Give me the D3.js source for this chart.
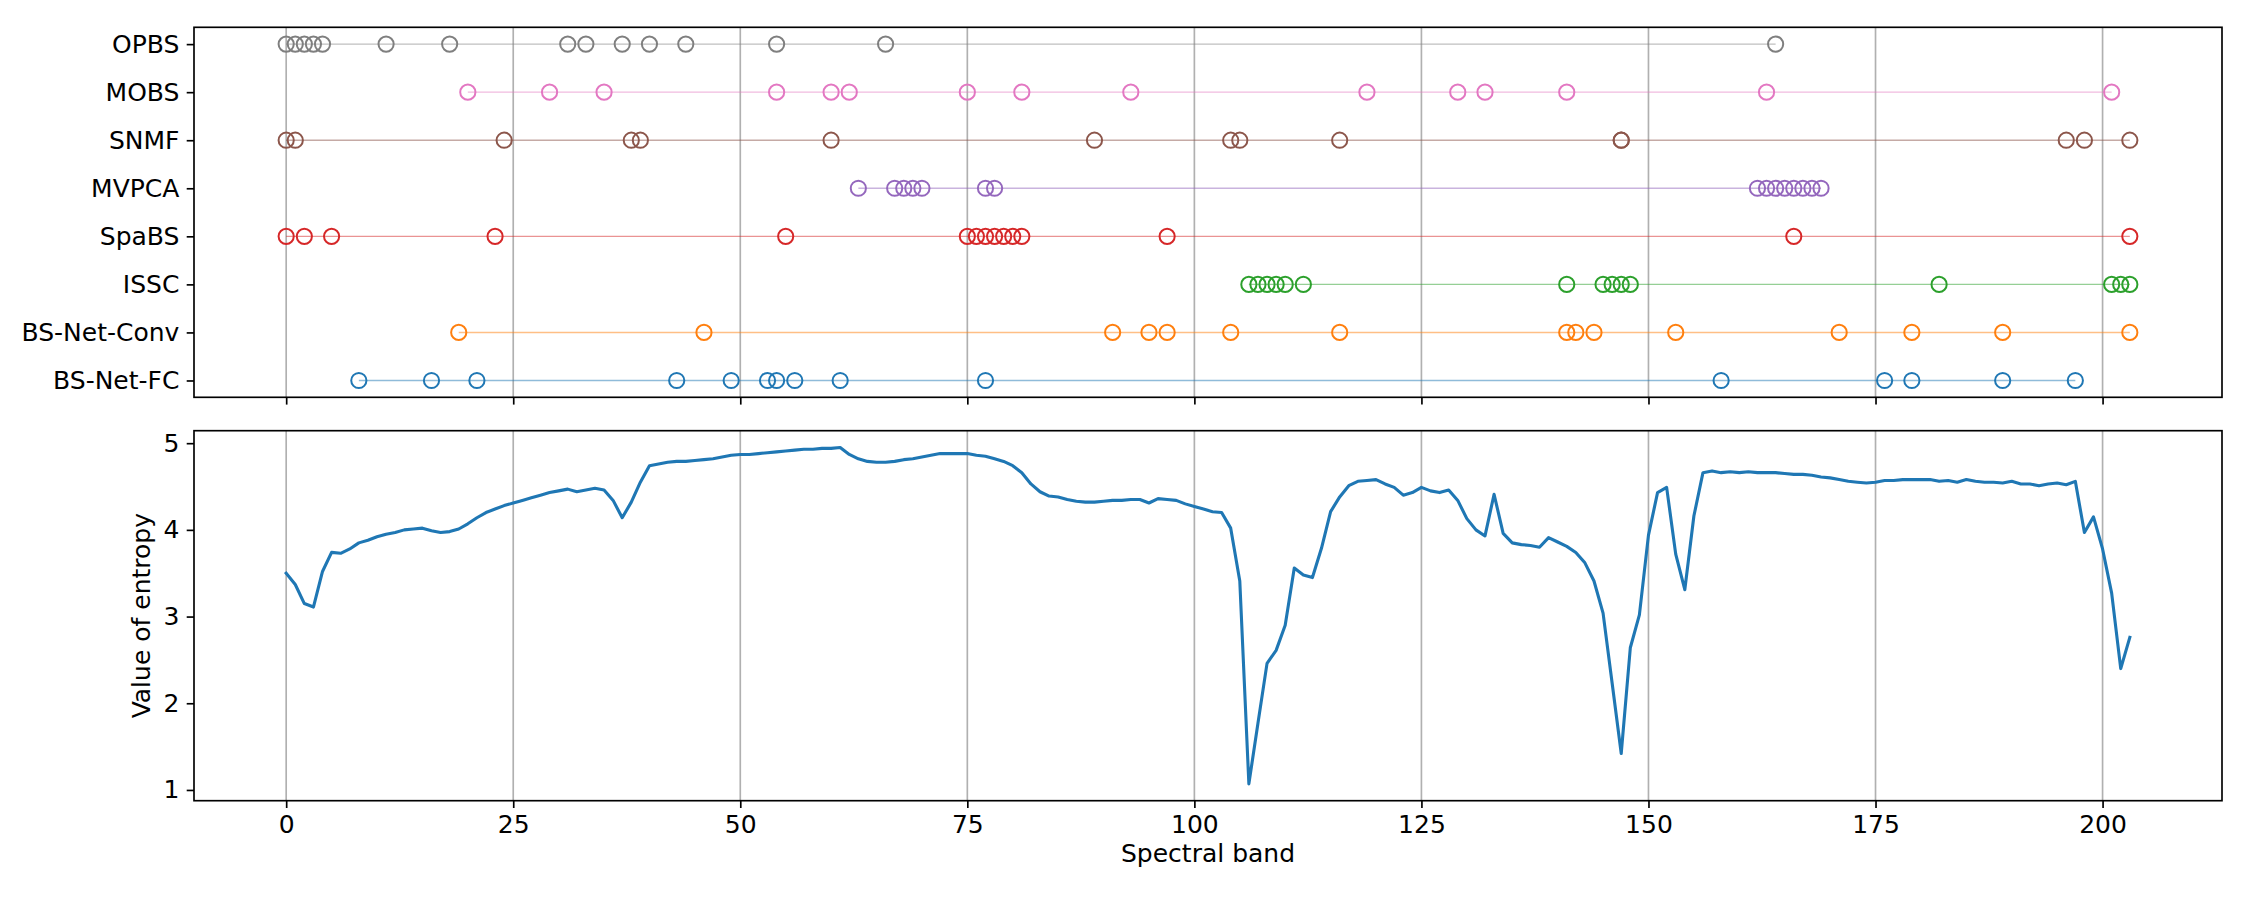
<!DOCTYPE html>
<html>
<head>
<meta charset="utf-8">
<script src="https://cdn.jsdelivr.net/npm/d3@7"></script>
<style>
  html, body { margin: 0; padding: 0; background: #fff; }
  svg { display: block; font-family: "DejaVu Sans", sans-serif; }
</style>
</head>
<body>
<svg id="chart" width="2250" height="900"></svg>
<script>
// ---------- data ----------
const methods = ["BS-Net-FC", "BS-Net-Conv", "ISSC", "SpaBS", "MVPCA", "SNMF", "MOBS", "OPBS"];
const colors  = ["#1f77b4", "#ff7f0e", "#2ca02c", "#d62728", "#9467bd", "#8c564b", "#e377c2", "#7f7f7f"];

const bsNetFC   = [8, 16, 21, 43, 49, 53, 54, 56, 61, 77, 158, 176, 179, 189, 197];
const bsNetConv = [19, 46, 91, 95, 97, 104, 116, 141, 142, 144, 153, 171, 179, 189, 203];
const issc      = [106, 107, 108, 109, 110, 112, 141, 145, 146, 147, 148, 182, 201, 202, 203];
const spabs     = [0, 2, 5, 23, 55, 75, 76, 77, 78, 79, 80, 81, 97, 166, 203];
const mvpca     = [63, 67, 68, 69, 70, 77, 78, 162, 163, 164, 165, 166, 167, 168, 169];
const snmf      = [0, 1, 24, 38, 39, 60, 89, 104, 105, 116, 147, 147, 196, 198, 203];
const mobs      = [20, 29, 35, 54, 60, 62, 75, 81, 93, 119, 129, 132, 141, 163, 201];
const opbs      = [0, 1, 2, 3, 4, 11, 18, 31, 33, 37, 40, 44, 54, 66, 164];

const selections = [bsNetFC, bsNetConv, issc, spabs, mvpca, snmf, mobs, opbs];

const entropy = [
  3.50, 3.37, 3.15, 3.11, 3.52, 3.74, 3.73, 3.78, 3.85, 3.88,
  3.92, 3.95, 3.97, 4.00, 4.01, 4.02, 3.99, 3.97, 3.98, 4.01,
  4.07, 4.14, 4.20, 4.24, 4.28, 4.31, 4.34, 4.37, 4.40, 4.43,
  4.45, 4.47, 4.44, 4.46, 4.48, 4.46, 4.34, 4.14, 4.32, 4.55,
  4.74, 4.76, 4.78, 4.79, 4.79, 4.80, 4.81, 4.82, 4.84, 4.86,
  4.87, 4.87, 4.88, 4.89, 4.90, 4.91, 4.92, 4.93, 4.93, 4.94,
  4.94, 4.95, 4.87, 4.82, 4.79, 4.78, 4.78, 4.79, 4.81, 4.82,
  4.84, 4.86, 4.88, 4.88, 4.88, 4.88, 4.86, 4.85, 4.82, 4.79,
  4.74, 4.66, 4.53, 4.44, 4.39, 4.38, 4.35, 4.33, 4.32, 4.32,
  4.33, 4.34, 4.34, 4.35, 4.35, 4.31, 4.36, 4.35, 4.34, 4.30,
  4.27, 4.24, 4.21, 4.20, 4.02, 3.41, 1.07, 1.77, 2.46, 2.61,
  2.90, 3.56, 3.48, 3.45, 3.79, 4.21, 4.38, 4.51, 4.56, 4.57,
  4.58, 4.53, 4.49, 4.40, 4.43, 4.49, 4.45, 4.43, 4.46, 4.34,
  4.13, 4.00, 3.93, 4.41, 3.96, 3.85, 3.83, 3.82, 3.80, 3.91,
  3.86, 3.81, 3.74, 3.62, 3.41, 3.04, 2.23, 1.42, 2.64, 3.02,
  3.94, 4.43, 4.49, 3.72, 3.31, 4.16, 4.66, 4.68, 4.66, 4.67,
  4.66, 4.67, 4.66, 4.66, 4.66, 4.65, 4.64, 4.64, 4.63, 4.61,
  4.60, 4.58, 4.56, 4.55, 4.54, 4.55, 4.57, 4.57, 4.58, 4.58,
  4.58, 4.58, 4.56, 4.57, 4.55, 4.58, 4.56, 4.55, 4.55, 4.54,
  4.56, 4.53, 4.53, 4.51, 4.53, 4.54, 4.52, 4.56, 3.97, 4.15,
  3.78, 3.27, 2.40, 2.76
];

const xTicks = [0, 25, 50, 75, 100, 125, 150, 175, 200];
const yTicks = [1, 2, 3, 4, 5];
const xLabel = "Spectral band";
const yLabel = "Value of entropy";

// ---------- layout ----------
const FONT = 25;
const left = 194, right = 2222;
const top1 = 27.3, bot1 = 397.3;
const top2 = 430.7, bot2 = 800.7;
const tickLen = 7.3, tickPad = 7.3;

const svg = d3.select("#chart");

const xMin = 0, xMax = entropy.length - 1;
const xPad = (xMax - xMin) * 0.05;
const x = d3.scaleLinear().domain([xMin - xPad, xMax + xPad]).range([left, right]);

const yTop = d3.scaleLinear().domain([-0.35, methods.length - 1 + 0.35]).range([bot1, top1]);

const eExt = d3.extent(entropy);
const ePad = (eExt[1] - eExt[0]) * 0.05;
const yBot = d3.scaleLinear().domain([eExt[0] - ePad, eExt[1] + ePad]).range([bot2, top2]);

function panelGrid(g, y0, y1) {
  g.selectAll("line.grid").data(xTicks).join("line")
    .attr("class", "grid")
    .attr("x1", d => x(d)).attr("x2", d => x(d))
    .attr("y1", y0).attr("y2", y1)
    .attr("stroke", "#b0b0b0").attr("stroke-width", 1.67);
}

// ---------- top panel ----------
const gTop = svg.append("g");
panelGrid(gTop, top1, bot1);

selections.forEach((sel, i) => {
  const c = colors[i];
  const yy = yTop(i);
  gTop.append("line")
    .attr("x1", x(d3.min(sel))).attr("x2", x(d3.max(sel)))
    .attr("y1", yy).attr("y2", yy)
    .attr("stroke", c).attr("stroke-opacity", 0.5).attr("stroke-width", 1.4);
  gTop.selectAll(null).data(sel).join("circle")
    .attr("cx", d => x(d)).attr("cy", yy).attr("r", 7.6)
    .attr("fill", "none").attr("stroke", c).attr("stroke-width", 2);
});

// frame
gTop.append("rect").attr("x", left).attr("y", top1)
  .attr("width", right - left).attr("height", bot1 - top1)
  .attr("fill", "none").attr("stroke", "#000").attr("stroke-width", 1.67);

// x ticks (no labels)
const axTopX = d3.axisBottom(x).tickValues(xTicks).tickSize(tickLen).tickFormat("");
gTop.append("g").attr("transform", `translate(0,${bot1})`).call(axTopX)
  .call(g => g.select(".domain").remove())
  .call(g => g.selectAll(".tick line").attr("stroke", "#000").attr("stroke-width", 1.67));

// y ticks with method labels
const axTopY = d3.axisLeft(yTop).tickValues(d3.range(methods.length))
  .tickFormat(i => methods[i]).tickSize(tickLen).tickPadding(tickPad);
gTop.append("g").attr("transform", `translate(${left},0)`).call(axTopY)
  .call(g => g.select(".domain").remove())
  .call(g => g.selectAll(".tick line").attr("stroke", "#000").attr("stroke-width", 1.67))
  .call(g => g.selectAll(".tick text").attr("fill", "#000")
    .style("font-size", FONT + "px").style("font-family", "DejaVu Sans"));

// ---------- bottom panel ----------
const gBot = svg.append("g");
panelGrid(gBot, top2, bot2);

const line = d3.line().x((d, i) => x(i)).y(d => yBot(d));
gBot.append("path").datum(entropy)
  .attr("d", line).attr("fill", "none")
  .attr("stroke", "#1f77b4").attr("stroke-width", 3.1)
  .attr("stroke-linejoin", "round").attr("stroke-linecap", "square");

gBot.append("rect").attr("x", left).attr("y", top2)
  .attr("width", right - left).attr("height", bot2 - top2)
  .attr("fill", "none").attr("stroke", "#000").attr("stroke-width", 1.67);

const axBotX = d3.axisBottom(x).tickValues(xTicks).tickSize(tickLen).tickPadding(tickPad).tickFormat(d3.format("d"));
gBot.append("g").attr("transform", `translate(0,${bot2})`).call(axBotX)
  .call(g => g.select(".domain").remove())
  .call(g => g.selectAll(".tick line").attr("stroke", "#000").attr("stroke-width", 1.67))
  .call(g => g.selectAll(".tick text").attr("fill", "#000")
    .style("font-size", FONT + "px").style("font-family", "DejaVu Sans"));

const axBotY = d3.axisLeft(yBot).tickValues(yTicks).tickSize(tickLen).tickPadding(tickPad).tickFormat(d3.format("d"));
gBot.append("g").attr("transform", `translate(${left},0)`).call(axBotY)
  .call(g => g.select(".domain").remove())
  .call(g => g.selectAll(".tick line").attr("stroke", "#000").attr("stroke-width", 1.67))
  .call(g => g.selectAll(".tick text").attr("fill", "#000")
    .style("font-size", FONT + "px").style("font-family", "DejaVu Sans"));

// axis labels
svg.append("text")
  .attr("x", (left + right) / 2).attr("y", 862)
  .attr("text-anchor", "middle")
  .style("font-size", FONT + "px").style("font-family", "DejaVu Sans")
  .text(xLabel);

svg.append("text")
  .attr("transform", `translate(150,${(top2 + bot2) / 2}) rotate(-90)`)
  .attr("text-anchor", "middle")
  .style("font-size", FONT + "px").style("font-family", "DejaVu Sans")
  .text(yLabel);
</script>
</body>
</html>
